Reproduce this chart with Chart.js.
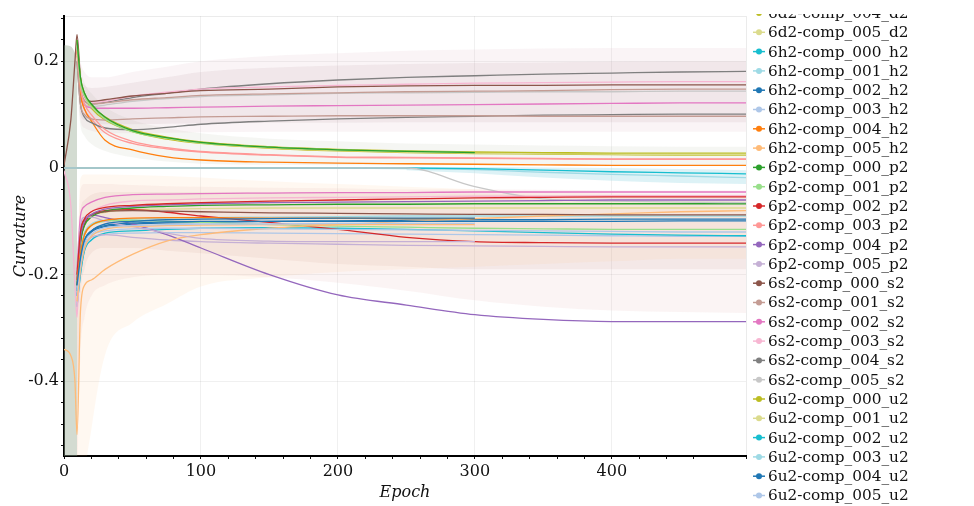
<!DOCTYPE html>
<html>
<head>
<meta charset="utf-8">
<script src="https://cdn.jsdelivr.net/npm/chart.js@4"></script>
<style>
  body { margin: 0; background: #fff; }
  #wrap { width: 974px; height: 506px; position: relative; }
</style>
</head>
<body>
<div id="wrap"><canvas id="curvatureChart"></canvas></div>
<script>
const EPOCHS = [0, 5, 8, 9.5, 12, 15, 20, 30, 50, 75, 100, 150, 200, 250, 300, 350, 400, 450, 498];
const n = null;

// tab20 palette, cycled over the runs
const TAB20 = ['#1f77b4', '#aec7e8', '#ff7f0e', '#ffbb78', '#2ca02c', '#98df8a', '#d62728', '#ff9896',
  '#9467bd', '#c5b0d5', '#8c564b', '#c49c94', '#e377c2', '#f7b6d2', '#7f7f7f', '#c7c7c7',
  '#bcbd22', '#dbdb8d', '#17becf', '#9edae5'];

// mean curvature per run (rows = comp_000 .. comp_005)
const FAM_B2 = [
  [n, n, n, -0.22, -0.17, -0.135, -0.118, -0.105, -0.1, -0.097, -0.096, -0.095, -0.094, -0.094, -0.094, n, n, n, n],
  [n, n, n, -0.23, -0.18, -0.14, -0.124, -0.112, -0.108, -0.106, -0.105, -0.105, -0.104, -0.104, -0.104, n, n, n, n],
  [n, n, n, -0.21, -0.16, -0.125, -0.108, -0.098, -0.094, -0.093, -0.093, -0.094, -0.094, -0.095, -0.095, n, n, n, n],
  [n, n, n, -0.25, -0.19, -0.15, -0.128, -0.115, -0.11, -0.108, -0.107, -0.106, -0.106, -0.106, -0.106, n, n, n, n],
  [n, n, n, 0.24, 0.17, 0.14, 0.12, 0.095, 0.07, 0.057, 0.048, 0.039, 0.034, 0.031, 0.029, n, n, n, n],
  [n, n, n, 0.23, 0.16, 0.135, 0.115, 0.092, 0.068, 0.056, 0.047, 0.039, 0.034, 0.031, 0.029, n, n, n, n]
];
const FAM_C2 = [
  [n, n, n, -0.2, -0.12, -0.095, -0.082, -0.074, -0.07, -0.067, -0.065, -0.062, -0.06, -0.058, -0.056, -0.055, -0.054, -0.054, -0.054],
  [n, n, n, 0.22, 0.15, 0.12, 0.1, 0.072, 0.05, 0.038, 0.031, 0.025, 0.021, 0.02, 0.019, 0.018, 0.017, 0.017, 0.017],
  [n, n, n, -0.21, -0.13, -0.1, -0.087, -0.077, -0.072, -0.069, -0.067, -0.065, -0.064, -0.063, -0.062, -0.061, -0.06, -0.06, -0.06],
  [n, n, n, -0.2, -0.11, -0.092, -0.092, -0.1, -0.11, -0.122, -0.132, -0.137, -0.138, -0.138, -0.138, n, n, n, n],
  [n, n, n, -0.21, -0.12, -0.098, -0.088, -0.082, -0.08, -0.081, -0.082, -0.084, -0.085, -0.086, -0.087, -0.087, -0.088, -0.088, -0.088],
  [n, n, n, 0.2, 0.12, 0.1, 0.092, 0.09, 0.092, 0.094, 0.096, 0.097, 0.098, 0.098, 0.098, 0.097, 0.097, 0.097, 0.097]
];
const FAM_D2 = [
  [n, n, n, -0.19, -0.09, -0.072, -0.064, -0.055, -0.05, -0.049, -0.048, -0.047, -0.046, -0.046, -0.045, -0.045, -0.045, -0.045, -0.045],
  [-0.005, -0.07, -0.22, -0.28, -0.12, -0.095, -0.082, -0.07, -0.062, -0.06, -0.058, -0.056, -0.055, -0.054, -0.053, -0.053, -0.052, -0.052, -0.052],
  [n, n, n, 0.2, 0.12, 0.095, 0.085, 0.075, 0.072, 0.076, 0.082, 0.088, 0.092, 0.095, 0.097, 0.099, 0.1, 0.101, 0.101],
  [0, 0, 0, 0, 0, 0, 0, 0, 0, 0, 0, 0, 0, 0, -0.035, -0.058, -0.062, -0.064, -0.065],
  [n, n, n, 0.24, 0.17, 0.14, 0.118, 0.096, 0.072, 0.058, 0.049, 0.04, 0.035, 0.032, 0.03, 0.029, 0.028, 0.028, 0.028],
  [n, n, n, 0.23, 0.165, 0.135, 0.115, 0.093, 0.07, 0.056, 0.047, 0.038, 0.033, 0.03, 0.028, 0.027, 0.026, 0.025, 0.025]
];
const FAM_H2 = [
  [0, 0, 0, 0, 0, 0, 0, 0, 0, 0, 0, 0, 0, 0, -0.001, -0.004, -0.007, -0.009, -0.011],
  [n, n, n, 0, 0, 0, 0, 0, 0, 0, 0, 0, 0, -0.001, -0.003, -0.008, -0.012, -0.015, -0.018],
  [n, n, n, -0.23, -0.17, -0.135, -0.118, -0.108, -0.103, -0.101, -0.1, -0.1, -0.1, -0.1, -0.1, -0.1, -0.1, -0.099, -0.099],
  [n, n, n, -0.24, -0.18, -0.145, -0.127, -0.118, -0.114, -0.113, -0.113, -0.114, -0.115, -0.116, -0.117, -0.118, -0.119, -0.12, -0.12],
  [n, n, n, 0.22, 0.14, 0.11, 0.088, 0.052, 0.034, 0.021, 0.015, 0.011, 0.009, 0.008, 0.007, 0.006, 0.005, 0.005, 0.005],
  [-0.34, -0.352, -0.4, -0.5, -0.27, -0.22, -0.21, -0.19, -0.162, -0.137, -0.125, -0.113, -0.106, -0.1, -0.095, -0.09, -0.086, -0.082, -0.08]
];
const FAM_P2 = [
  [n, n, n, -0.22, -0.14, -0.108, -0.092, -0.081, -0.075, -0.072, -0.07, -0.069, -0.068, -0.068, -0.067, -0.067, -0.067, -0.067, -0.067],
  [n, n, n, -0.23, -0.16, -0.125, -0.108, -0.1, -0.098, -0.1, -0.102, -0.106, -0.109, -0.111, -0.113, -0.114, -0.115, -0.115, -0.115],
  [n, n, n, -0.22, -0.14, -0.105, -0.088, -0.08, -0.078, -0.083, -0.09, -0.102, -0.115, -0.13, -0.138, -0.14, -0.141, -0.141, -0.141],
  [n, n, n, 0.21, 0.14, 0.11, 0.092, 0.066, 0.046, 0.036, 0.03, 0.024, 0.02, 0.019, 0.018, 0.017, 0.016, 0.016, 0.016],
  [n, n, n, -0.2, -0.12, -0.095, -0.088, -0.093, -0.105, -0.125, -0.15, -0.2, -0.238, -0.257, -0.275, -0.284, -0.288, -0.288, -0.288],
  [n, n, n, -0.26, -0.19, -0.15, -0.13, -0.125, -0.13, -0.135, -0.138, -0.141, -0.143, -0.145, -0.146, -0.147, -0.148, -0.148, -0.148]
];
const FAM_S2 = [
  [0.005, 0.09, 0.2, 0.25, 0.17, 0.135, 0.125, 0.128, 0.135, 0.14, 0.145, 0.148, 0.152, 0.154, 0.155, 0.155, 0.156, 0.156, 0.156],
  [n, n, n, 0.23, 0.15, 0.125, 0.12, 0.122, 0.128, 0.132, 0.136, 0.139, 0.141, 0.143, 0.144, 0.145, 0.147, 0.148, 0.148],
  [n, n, n, 0.23, 0.14, 0.118, 0.113, 0.112, 0.112, 0.113, 0.114, 0.116, 0.117, 0.118, 0.119, 0.12, 0.121, 0.122, 0.122],
  [n, n, n, 0.24, 0.16, 0.13, 0.122, 0.125, 0.135, 0.142, 0.148, 0.152, 0.155, 0.157, 0.159, 0.16, 0.161, 0.162, 0.162],
  [n, n, n, 0.24, 0.15, 0.128, 0.12, 0.123, 0.132, 0.14, 0.148, 0.158, 0.165, 0.17, 0.173, 0.176, 0.178, 0.18, 0.181],
  [n, n, n, 0.22, 0.14, 0.12, 0.115, 0.118, 0.125, 0.13, 0.134, 0.137, 0.14, 0.141, 0.142, 0.143, 0.143, 0.144, 0.144]
];
const FAM_U2 = [
  [n, n, n, 0.22, 0.16, 0.132, 0.112, 0.09, 0.068, 0.054, 0.046, 0.037, 0.032, 0.029, 0.027, 0.026, 0.025, 0.024, 0.024],
  [n, n, n, -0.21, -0.14, -0.105, -0.09, -0.083, -0.078, -0.077, -0.076, -0.075, -0.075, -0.075, -0.075, -0.075, -0.075, -0.075, -0.075],
  [n, n, n, -0.26, -0.2, -0.155, -0.135, -0.122, -0.118, -0.115, -0.113, -0.112, -0.113, -0.115, -0.118, -0.121, -0.124, -0.126, -0.127],
  [n, n, n, -0.22, -0.15, -0.12, -0.105, -0.098, -0.096, -0.094, -0.093, -0.092, -0.091, -0.09, -0.09, -0.09, -0.09, -0.09, -0.09],
  [n, n, n, -0.24, -0.18, -0.14, -0.12, -0.11, -0.105, -0.103, -0.102, -0.1, -0.099, -0.098, -0.097, -0.097, -0.096, -0.096, -0.096],
  [n, n, n, -0.26, -0.2, -0.155, -0.135, -0.125, -0.122, -0.121, -0.121, -0.122, -0.123, -0.124, -0.125, -0.126, -0.127, -0.128, -0.128]
];
const FAMILIES = [['6b2', 'b2', FAM_B2], ['6c2', 'c2', FAM_C2], ['6d2', 'd2', FAM_D2], ['6h2', 'h2', FAM_H2],
  ['6p2', 'p2', FAM_P2], ['6s2', 's2', FAM_S2], ['6u2', 'u2', FAM_U2]];

// spread bands (lower / upper edges)
const BAND_START_LO = [-0.6, -0.6, -0.6, -0.6, n, n, n, n, n, n, n, n, n, n, n, n, n, n, n];
const BAND_START_HI = [0.23, 0.228, 0.215, 0.2, n, n, n, n, n, n, n, n, n, n, n, n, n, n, n];
const BAND_UP_OUTER_LO = [n, n, n, 0.2, 0.09, 0.075, 0.07, 0.065, 0.065, 0.066, 0.067, 0.068, 0.068, 0.068, 0.068, 0.068, 0.068, 0.068, 0.068];
const BAND_UP_OUTER_HI = [n, n, n, 0.25, 0.2, 0.18, 0.17, 0.17, 0.18, 0.19, 0.2, 0.21, 0.215, 0.22, 0.222, 0.224, 0.225, 0.225, 0.225];
const BAND_UP_INNER_LO = [n, n, n, 0.2, 0.1, 0.09, 0.085, 0.082, 0.082, 0.083, 0.084, 0.085, 0.085, 0.086, 0.086, 0.086, 0.086, 0.086, 0.086];
const BAND_UP_INNER_HI = [n, n, n, 0.24, 0.17, 0.155, 0.15, 0.152, 0.16, 0.17, 0.18, 0.188, 0.192, 0.195, 0.197, 0.198, 0.199, 0.2, 0.2];
const BAND_DESC_LO = [n, n, n, 0.15, 0.08, 0.06, 0.045, 0.032, 0.02, 0.012, 0.008, 0.006, 0.005, 0.005, 0.005, 0.005, 0.005, 0.005, 0.005];
const BAND_DESC_HI = [n, n, n, 0.25, 0.19, 0.16, 0.14, 0.115, 0.09, 0.075, 0.065, 0.055, 0.05, 0.046, 0.044, 0.042, 0.041, 0.04, 0.04];
const BAND_ORANGE_LO = [n, n, n, -0.8, -0.8, -0.6, -0.49, -0.35, -0.29, -0.255, -0.222, -0.205, -0.195, -0.19, -0.185, -0.18, -0.175, -0.17, -0.17];
const BAND_ORANGE_HI = [n, n, n, -0.2, -0.02, -0.012, -0.012, -0.012, -0.013, -0.015, -0.018, -0.025, -0.03, -0.035, -0.04, -0.045, -0.048, -0.05, -0.05];
const BAND_LOW_LO = [n, n, n, -0.6, -0.35, -0.28, -0.24, -0.22, -0.205, -0.2, -0.2, -0.205, -0.215, -0.23, -0.248, -0.26, -0.267, -0.27, -0.272];
const BAND_LOW_HI = [n, n, n, -0.2, -0.04, -0.03, -0.03, -0.03, -0.032, -0.034, -0.035, -0.037, -0.038, -0.04, -0.04, -0.041, -0.042, -0.042, -0.042];
const BAND_CORE_LO = [n, n, n, -0.5, -0.25, -0.19, -0.16, -0.15, -0.15, -0.155, -0.16, -0.17, -0.18, -0.185, -0.19, -0.19, -0.19, -0.19, -0.19];
const BAND_CORE_HI = [n, n, n, -0.25, -0.08, -0.06, -0.05, -0.045, -0.045, -0.045, -0.045, -0.046, -0.047, -0.048, -0.048, -0.05, -0.05, -0.05, -0.05];
const BAND_ZERO_LO = [n, n, n, n, n, n, n, n, n, n, n, n, n, -0.004, -0.01, -0.018, -0.024, -0.028, -0.03];
const BAND_ZERO_HI = [n, n, n, n, n, n, n, n, n, n, n, n, n, 0.002, 0.002, 0.001, 0, -0.002, -0.004];

const X_TICKS = [0, 100, 200, 300, 400];
const Y_TICKS = [0.2, 0, -0.2, -0.4];

function toPoints(values) {
    return values.map((v, i) => ({x: EPOCHS[i], y: v}));
}

const seriesNames = [];
const seriesColors = [];
const lineSets = [];
FAMILIES.forEach(([prefix, suffix, rows]) => {
    rows.forEach((row, k) => {
        const idx = seriesNames.length;
        const name = `${prefix}-comp_00${k}_${suffix}`;
        const color = TAB20[idx % 20];
        seriesNames.push(name);
        seriesColors.push(color);
        lineSets.push({
            label: name,
            data: toPoints(row),
            borderColor: color,
            backgroundColor: color,
            borderWidth: 1.3,
            pointRadius: 0,
            cubicInterpolationMode: 'monotone',
            fill: false,
            order: 0,
        });
    });
});

const bandSets = [];
function addBand(lo, hi, color) {
    bandSets.push({label: '_lo', data: toPoints(lo), borderWidth: 0, pointRadius: 0,
        cubicInterpolationMode: 'monotone', fill: false, order: 5});
    bandSets.push({label: '_hi', data: toPoints(hi), borderWidth: 0, pointRadius: 0,
        cubicInterpolationMode: 'monotone', fill: '-1', backgroundColor: color, order: 5});
}
addBand(BAND_START_LO, BAND_START_HI, 'rgba(150,170,145,0.42)');
addBand(BAND_ORANGE_LO, BAND_ORANGE_HI, 'rgba(255,190,130,0.11)');
addBand(BAND_LOW_LO, BAND_LOW_HI, 'rgba(215,150,150,0.10)');
addBand(BAND_CORE_LO, BAND_CORE_HI, 'rgba(175,125,115,0.10)');
addBand(BAND_UP_OUTER_LO, BAND_UP_OUTER_HI, 'rgba(215,165,180,0.12)');
addBand(BAND_UP_INNER_LO, BAND_UP_INNER_HI, 'rgba(150,105,120,0.10)');
addBand(BAND_DESC_LO, BAND_DESC_HI, 'rgba(170,180,160,0.12)');
addBand(BAND_ZERO_LO, BAND_ZERO_HI, 'rgba(158,218,229,0.35)');

function isMultiple(v, step) {
    const r = v / step;
    return Math.abs(r - Math.round(r)) < 1e-6;
}

// right-hand legend, scrolled so it starts part way through the list
const sideLegend = {
    id: 'sideLegend',
    afterDraw(chart) {
        const ctx = chart.ctx;
        ctx.save();
        ctx.beginPath();
        ctx.rect(749, 14, 225, 492);
        ctx.clip();
        ctx.font = "15.3px 'DejaVu Serif'";
        ctx.textBaseline = 'middle';
        seriesNames.forEach((name, i) => {
            const y = 32.3 + (i - 17) * 19.3;
            if (y < -10) return;
            const c = seriesColors[i];
            ctx.strokeStyle = c;
            ctx.lineWidth = 1.5;
            ctx.beginPath(); ctx.moveTo(753, y); ctx.lineTo(765, y); ctx.stroke();
            ctx.fillStyle = c;
            ctx.beginPath(); ctx.arc(759, y, 3, 0, Math.PI * 2); ctx.fill();
            ctx.fillStyle = '#111';
            ctx.fillText(name, 768, y + 1);
        });
        ctx.restore();
    }
};

// faint frame on top and right of the plot area
const frame = {
    id: 'frame',
    beforeDatasetsDraw(chart) {
        const {ctx, chartArea: a} = chart;
        ctx.save();
        ctx.strokeStyle = 'rgba(0,0,0,0.08)';
        ctx.lineWidth = 1;
        ctx.beginPath();
        ctx.moveTo(a.left, a.top + 0.5); ctx.lineTo(a.right + 0.5, a.top + 0.5); ctx.lineTo(a.right + 0.5, a.bottom);
        ctx.stroke();
        ctx.restore();
    }
};

Chart.defaults.font.family = "'DejaVu Serif', serif";
Chart.defaults.font.size = 16;
Chart.defaults.color = '#111';

new Chart('curvatureChart', {
    type: 'line',
    data: {datasets: lineSets.concat(bandSets)},
    options: {
        responsive: true,
        maintainAspectRatio: false,
        animation: false,
        layout: {padding: {top: 16, right: 228, left: 0, bottom: 0}},
        plugins: {legend: {display: false}, tooltip: {enabled: false}},
        scales: {
            x: {
                type: 'linear',
                min: 0,
                max: 498,
                afterFit: s => { s.height = 50; },
                border: {color: '#000', width: 2},
                grid: {
                    color: c => (c.tick && X_TICKS.includes(c.tick.value)) ? 'rgba(0,0,0,0.06)' : 'rgba(0,0,0,0)',
                    tickColor: '#111',
                    tickLength: 3,
                },
                ticks: {
                    stepSize: 20,
                    autoSkip: false,
                    maxRotation: 0,
                    padding: 3,
                    callback: v => X_TICKS.includes(v) ? String(v) : '',
                },
                title: {display: true, text: 'Epoch', font: {size: 16, style: 'italic'}, padding: {top: 0, bottom: 4}},
            },
            y: {
                min: -0.54,
                max: 0.285,
                afterFit: s => { s.width = 64; },
                border: {color: '#000', width: 2},
                grid: {
                    color: c => (c.tick && isMultiple(c.tick.value, 0.2) && Math.abs(c.tick.value) > 1e-6) ? 'rgba(0,0,0,0.06)' : 'rgba(0,0,0,0)',
                    tickColor: '#111',
                    tickLength: 3,
                },
                ticks: {
                    stepSize: 0.04,
                    includeBounds: false,
                    autoSkip: false,
                    padding: 2,
                    callback: v => {
                        const hit = Y_TICKS.find(t => Math.abs(t - v) < 1e-6);
                        return hit === undefined ? '' : String(hit);
                    },
                },
                title: {display: true, text: 'Curvature', font: {size: 16, style: 'italic'}, padding: {top: 11, bottom: 0}},
            }
        }
    },
    plugins: [frame, sideLegend]
});
</script>
</body>
</html>
